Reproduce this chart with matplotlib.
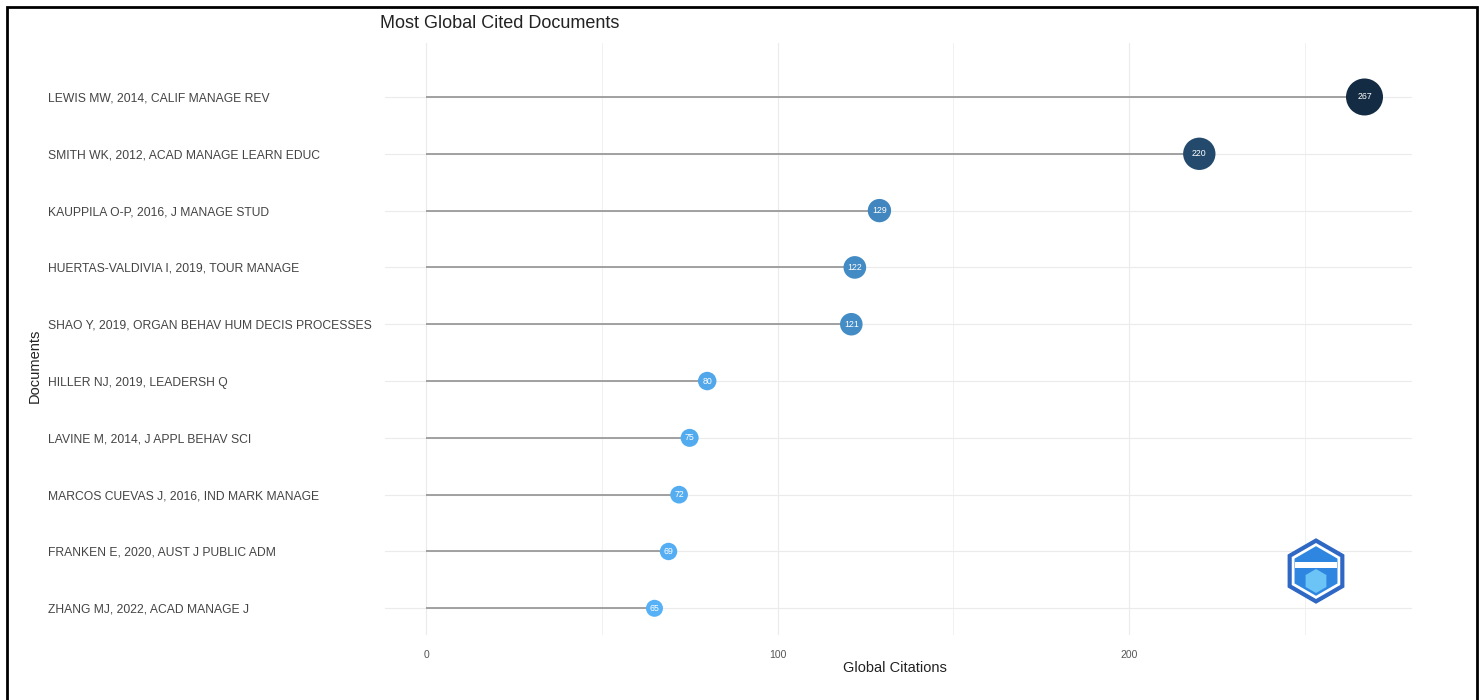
import numpy as np
import matplotlib
matplotlib.use('Agg')
import matplotlib.pyplot as plt
from matplotlib.colors import LinearSegmentedColormap
from matplotlib.patches import Rectangle, RegularPolygon

################# DATOS ############################

documentos = [
    'LEWIS MW, 2014, CALIF MANAGE REV',
    'SMITH WK, 2012, ACAD MANAGE LEARN EDUC',
    'KAUPPILA O-P, 2016, J MANAGE STUD',
    'HUERTAS-VALDIVIA I, 2019, TOUR MANAGE',
    'SHAO Y, 2019, ORGAN BEHAV HUM DECIS PROCESSES',
    'HILLER NJ, 2019, LEADERSH Q',
    'LAVINE M, 2014, J APPL BEHAV SCI',
    'MARCOS CUEVAS J, 2016, IND MARK MANAGE',
    'FRANKEN E, 2020, AUST J PUBLIC ADM',
    'ZHANG MJ, 2022, ACAD MANAGE J',
]
citas = [267, 220, 129, 122, 121, 80, 75, 72, 69, 65]
ticks_x = [0, 100, 200]

TITULO = 'Most Global Cited Documents'
ETIQUETA_X = 'Global Citations'
ETIQUETA_Y = 'Documents'

FUENTE = 'Liberation Sans'
plt.rcParams['font.family'] = [FUENTE, 'DejaVu Sans']

################# FIGURA ############################

W, H = 1484, 700
fig = plt.figure(figsize=(W / 100, H / 100), dpi=100)
fig.patch.set_facecolor('white')

# panel en pixeles
izq, der, arriba, abajo = 385, 1412, 43, 635
ax = fig.add_axes([izq / W, 1 - abajo / H, (der - izq) / W, (abajo - arriba) / H])
ax.set_facecolor('white')

n = len(documentos)
pos = np.arange(n)
px_por_unidad = 3.515
cero_px = 426
ax.set_xlim((izq - cero_px) / px_por_unidad, (der - cero_px) / px_por_unidad)
ax.set_ylim(9.47, -0.95)

# rejilla
for xv in [0, 50, 100, 150, 200, 250]:
    ax.axvline(xv, color='#ebebeb', lw=0.8 if xv % 100 == 0 else 0.5, zorder=0)
for yv in pos:
    ax.axhline(yv, color='#ebebeb', lw=0.8, zorder=0)

cmap = LinearSegmentedColormap.from_list('azules', ['#56B1F7', '#132B43'])
vmin, vmax = min(citas), max(citas)
norm = [(v - vmin) / (vmax - vmin) for v in citas]
colores = [cmap(t) for t in norm]
diam_px = [17 + t * 20 for t in norm]
tam = [(d * 0.72) ** 2 for d in diam_px]

ax.hlines(pos, 0, citas, color='#9a9a9a', lw=1.3, zorder=1)
ax.scatter(citas, pos, s=tam, c=colores, edgecolors='none', zorder=2)
for v, y in zip(citas, pos):
    ax.text(v, y, str(v), color='white', fontsize=6.3, ha='center', va='center', zorder=3)

for s in ax.spines.values():
    s.set_visible(False)

ax.set_xticks(ticks_x)
ax.set_xticklabels([str(t) for t in ticks_x], fontsize=7.5, color='#555555')
ax.tick_params(axis='x', length=0, pad=11)

ax.set_yticks(pos)
ax.set_yticklabels(documentos, fontsize=8.7, color='#444444')
ax.tick_params(axis='y', length=0, pad=(izq - 48) * 0.72)
for lab in ax.get_yticklabels():
    lab.set_horizontalalignment('left')

fig.text(380 / W, 1 - 24 / H, TITULO, fontsize=13, ha='left', va='center', color='#222222')
fig.text(895 / W, 1 - 668 / H, ETIQUETA_X, fontsize=10.5, ha='center', va='center', color='#222222')
fig.text(35 / W, 1 - 366 / H, ETIQUETA_Y, fontsize=10.5, ha='center', va='center',
         rotation=90, color='#222222')

# logo (hexagono simple)
logo = fig.add_axes([(1316 - 40) / W, 1 - (571 + 40) / H, 80 / W, 80 / H])
logo.set_xlim(-1, 1)
logo.set_ylim(-1, 1)
logo.set_aspect('equal')
logo.axis('off')
logo.add_patch(RegularPolygon((0, 0), 6, radius=0.8, facecolor='#2f67c4', edgecolor='#2f67c4'))
logo.add_patch(RegularPolygon((0, 0), 6, radius=0.7, facecolor='white', edgecolor='none'))
logo.add_patch(RegularPolygon((0, 0), 6, radius=0.62, facecolor='#2e86e0', edgecolor='none'))
logo.add_patch(Rectangle((-0.53, 0.08), 1.06, 0.14, facecolor='white', edgecolor='none'))
logo.add_patch(RegularPolygon((0, -0.25), 6, radius=0.3, facecolor='#6cc3f5', edgecolor='none'))

# marco negro (el borde inferior queda fuera de la imagen)
fig.patches.append(Rectangle((7 / W, -10 / H), (1477 - 7) / W, (H + 10 - 6.5) / H,
                             transform=fig.transFigure, fill=False, edgecolor='black', lw=2))

fig.savefig('out.png', dpi=100)
